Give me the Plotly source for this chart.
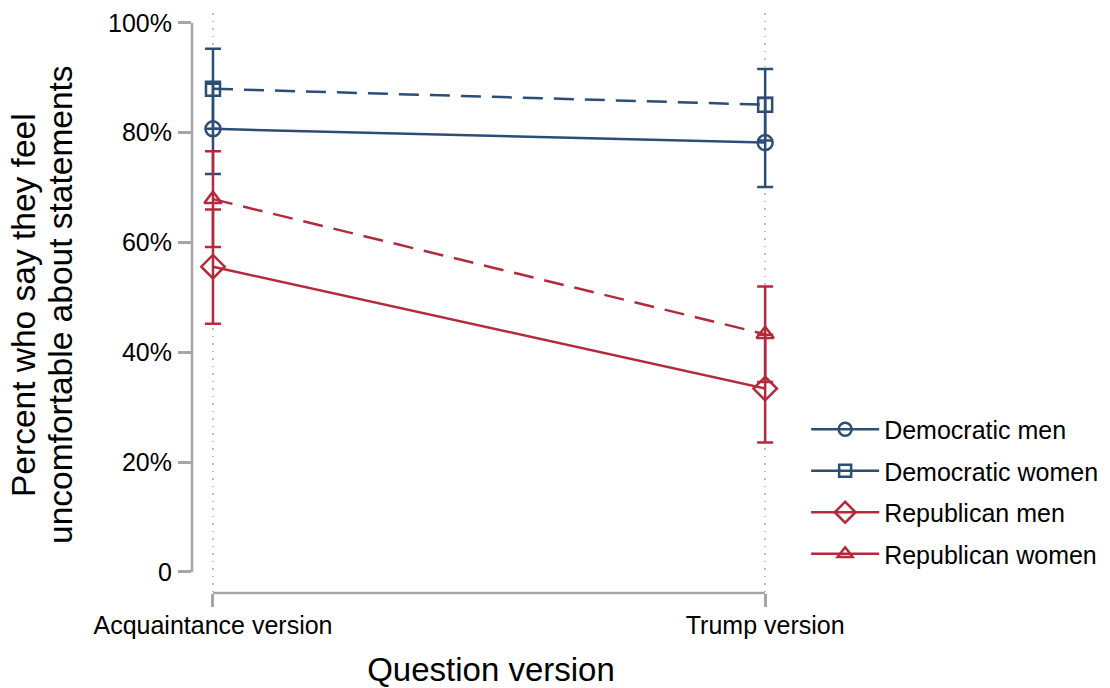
import plotly.graph_objects as go

categories = ["Acquaintance version", "Trump version"]
series_names = ["Democratic men", "Democratic women", "Republican men", "Republican women"]
dem_men = [80.7, 78.2]
dem_men_err = [8.2, 8.1]
dem_women = [88.0, 85.1]
dem_women_err = [7.3, 6.5]
rep_men = [55.6, 33.4]
rep_men_err = [10.4, 9.8]
rep_women = [67.9, 43.3]
rep_women_err = [8.7, 8.7]
y_ticks = [0, 20, 40, 60, 80, 100]
y_tick_labels = ["0", "20%", "40%", "60%", "80%", "100%"]
y_title_lines = ["Percent who say they feel", "uncomfortable about statements"]
x_title = "Question version"

BLUE = "#2c4d75"
RED = "#b42a3c"
AX = "#a6a6a6"
FONT = "Liberation Sans, Arial, Helvetica, sans-serif"

xpos = list(range(len(categories)))

specs = [
    (series_names[0], dem_men, dem_men_err, BLUE, "solid", "circle-open", 15),
    (series_names[1], dem_women, dem_women_err, BLUE, "20px,11px", "square-open", 14),
    (series_names[2], rep_men, rep_men_err, RED, "solid", "diamond-open", 18),
    (series_names[3], rep_women, rep_women_err, RED, "20px,11px", "triangle-up-open", 15),
]

fig = go.Figure()
for i, (name, vals, errs, col, dash, sym, size) in enumerate(specs):
    fig.add_trace(go.Scatter(
        x=xpos, y=vals, mode="lines+markers", name=name, showlegend=False,
        line=dict(color=col, width=2.5, dash=dash),
        marker=dict(symbol=sym, size=size, color=col, line=dict(color=col, width=2.5)),
        error_y=dict(type="data", array=errs, visible=True, color=col, thickness=2.5, width=8),
        cliponaxis=False,
    ))
for i, (name, vals, errs, col, dash, sym, size) in enumerate(specs):
    fig.add_trace(go.Scatter(
        x=[None], y=[None], mode="lines+markers", name=name, legendgroup=name,
        line=dict(color=col, width=2.5),
        marker=dict(symbol=sym, size=size - 2, color=col, line=dict(color=col, width=2.5)),
    ))

# Stata-style axis lines spanning only the tick range
fig.add_shape(type="line", xref="paper", yref="y", x0=0, x1=0, y0=min(y_ticks), y1=max(y_ticks),
              line=dict(color=AX, width=2.5))
fig.add_shape(type="line", xref="x", yref="paper", x0=xpos[0], x1=xpos[-1], y0=0, y1=0,
              line=dict(color=AX, width=2.5))

# two-line y title with tight line spacing
for line_text, shift in zip(y_title_lines, [-168, -131]):
    fig.add_annotation(text=line_text, xref="paper", yref="paper", x=0, y=0.4966,
                       xanchor="center", yanchor="middle", xshift=shift, textangle=-90,
                       showarrow=False, font=dict(size=33.5, color="black"))

grid = dict(showgrid=True, gridcolor="#bdbdbd", gridwidth=1.5, griddash="1.5px,6px")

# page body adds an 8px margin: shrink figure and margins to compensate
fig.update_layout(
    width=1102, height=680,
    margin=dict(l=184, r=320, t=5, b=95),
    paper_bgcolor="white", plot_bgcolor="white",
    font=dict(family=FONT, size=25, color="black"),
    xaxis=dict(
        range=[-0.038, 1.045], tickvals=xpos, ticktext=categories,
        ticks="outside", ticklen=13, tickwidth=2.5, tickcolor=AX,
        showline=False, zeroline=False, **grid, automargin=False,
        tickfont=dict(size=25), ticklabelstandoff=-3,
        title=dict(text=x_title, font=dict(size=33), standoff=30),
    ),
    yaxis=dict(
        range=[-3.83, 101.8], tickvals=y_ticks, ticktext=y_tick_labels,
        ticks="outside", ticklen=13, tickwidth=2.5, tickcolor=AX,
        showline=False, zeroline=False, showgrid=False, automargin=False,
        ticklabelstandoff=1, tickfont=dict(size=25),
    ),
    yaxis2=dict(
        overlaying="y", anchor="x", matches="y", tickvals=y_ticks[1:], automargin=False,
        showticklabels=False, ticks="", showline=False, zeroline=False, **grid,
    ),
    legend=dict(
        x=1.027, xanchor="left", y=0.175, yanchor="middle",
        font=dict(size=25), tracegroupgap=6, bgcolor="rgba(0,0,0,0)",
        itemwidth=68,
    ),
)

fig.write_html("out.html")
